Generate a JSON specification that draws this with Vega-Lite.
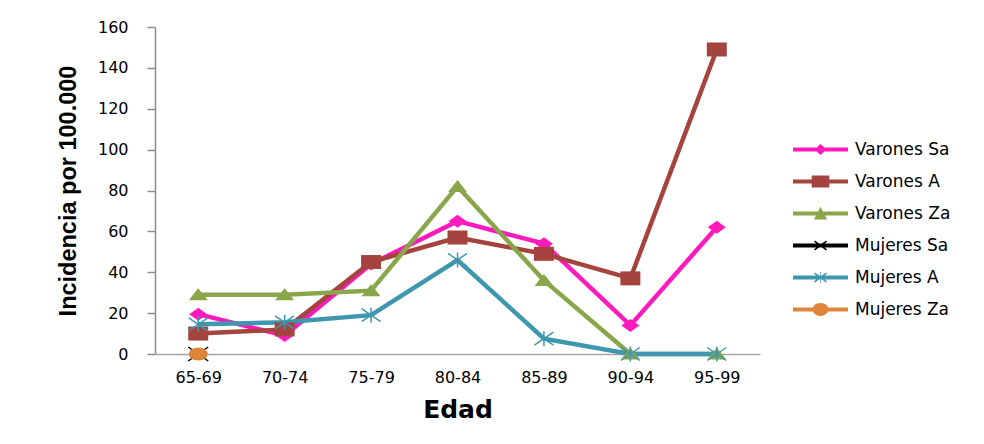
{
  "$schema": "https://vega.github.io/schema/vega-lite/v6.json",
  "width": 605,
  "height": 327,
  "autosize": {"type": "none"},
  "padding": {"left": 155, "top": 27, "right": 224, "bottom": 90},
  "background": "white",
  "config": {"view": {"stroke": null}, "axis": {"grid": false}},
  "data": {
    "values": [
      {"serie": "Varones Sa", "edad": "65-69", "valor": 19.5},
      {"serie": "Varones Sa", "edad": "70-74", "valor": 9},
      {"serie": "Varones Sa", "edad": "75-79", "valor": 44},
      {"serie": "Varones Sa", "edad": "80-84", "valor": 65},
      {"serie": "Varones Sa", "edad": "85-89", "valor": 54},
      {"serie": "Varones Sa", "edad": "90-94", "valor": 14},
      {"serie": "Varones Sa", "edad": "95-99", "valor": 62},
      {"serie": "Varones A", "edad": "65-69", "valor": 10},
      {"serie": "Varones A", "edad": "70-74", "valor": 12},
      {"serie": "Varones A", "edad": "75-79", "valor": 45},
      {"serie": "Varones A", "edad": "80-84", "valor": 57},
      {"serie": "Varones A", "edad": "85-89", "valor": 49},
      {"serie": "Varones A", "edad": "90-94", "valor": 37},
      {"serie": "Varones A", "edad": "95-99", "valor": 149},
      {"serie": "Varones Za", "edad": "65-69", "valor": 29},
      {"serie": "Varones Za", "edad": "70-74", "valor": 29},
      {"serie": "Varones Za", "edad": "75-79", "valor": 31},
      {"serie": "Varones Za", "edad": "80-84", "valor": 82},
      {"serie": "Varones Za", "edad": "85-89", "valor": 36},
      {"serie": "Varones Za", "edad": "90-94", "valor": 0},
      {"serie": "Varones Za", "edad": "95-99", "valor": 0},
      {"serie": "Mujeres Sa", "edad": "65-69", "valor": 0},
      {"serie": "Mujeres A", "edad": "65-69", "valor": 14.5},
      {"serie": "Mujeres A", "edad": "70-74", "valor": 15.5},
      {"serie": "Mujeres A", "edad": "75-79", "valor": 19},
      {"serie": "Mujeres A", "edad": "80-84", "valor": 46},
      {"serie": "Mujeres A", "edad": "85-89", "valor": 7.5},
      {"serie": "Mujeres A", "edad": "90-94", "valor": 0},
      {"serie": "Mujeres A", "edad": "95-99", "valor": 0},
      {"serie": "Mujeres Za", "edad": "65-69", "valor": 0}
    ]
  },
  "encoding": {
    "x": {
      "field": "edad",
      "type": "ordinal",
      "sort": null,
      "scale": {"type": "point", "padding": 0.5},
      "axis": {
        "title": "Edad",
        "titleFont": "DejaVu Sans",
        "titleFontSize": 25,
        "titleFontWeight": "bold",
        "titleColor": "black",
        "titlePadding": 12,
        "labelFont": "DejaVu Sans",
        "labelFontSize": 16,
        "labelColor": "black",
        "labelAngle": 0,
        "labelPadding": 15,
        "ticks": false,
        "domainColor": "#a6a6a6",
        "domainWidth": 1.5
      }
    },
    "y": {
      "field": "valor",
      "type": "quantitative",
      "scale": {"domain": [0, 160], "nice": false},
      "axis": {
        "title": "Incidencia por  100.000",
        "titleFont": "Liberation Sans",
        "titleFontSize": 23.5,
        "titleFontWeight": "bold",
        "titleColor": "black",
        "titlePadding": 17,
        "values": [0, 20, 40, 60, 80, 100, 120, 140, 160],
        "labelFont": "DejaVu Sans",
        "labelFontSize": 16,
        "labelColor": "black",
        "labelPadding": 19,
        "tickSize": 8,
        "tickColor": "#8c8c8c",
        "tickWidth": 1.5,
        "domainColor": "#8c8c8c",
        "domainWidth": 1.5
      }
    },
    "color": {
      "field": "serie",
      "type": "nominal",
      "scale": {
        "domain": ["Mujeres Za", "Mujeres A", "Mujeres Sa", "Varones Za", "Varones A", "Varones Sa"],
        "range": ["#df843b", "#3e97af", "#000000", "#8aa64a", "#a5443f", "#ff1abe"]
      },
      "legend": null
    }
  },
  "layer": [
    {
      "transform": [{"filter": "indexof(datum.serie, 'Varones') == 0"}],
      "mark": {"type": "line", "strokeWidth": 4.5}
    },
    {
      "transform": [{"filter": "indexof(datum.serie, 'Mujeres') == 0"}],
      "mark": {"type": "line", "strokeWidth": 4.5}
    },
    {
      "transform": [{"filter": "indexof(datum.serie, 'Varones') == 0"}],
      "mark": {"type": "point", "filled": true, "opacity": 1, "strokeWidth": 0, "size": 400},
      "encoding": {
        "shape": {
          "condition": [
            {"test": "datum.serie == 'Varones Sa'", "value": "M-0.9,0L0,-0.65L0.9,0L0,0.65Z"},
            {"test": "datum.serie == 'Varones A'", "value": "M-1,-0.7H1V0.7H-1Z"}
          ],
          "value": "M0,-0.65L0.95,0.55L-0.95,0.55Z"
        }
      }
    },
    {
      "transform": [{"filter": "datum.serie == 'Mujeres Sa' || datum.serie == 'Mujeres A'"}],
      "mark": {"type": "point", "filled": false, "opacity": 1, "strokeWidth": 1.5, "size": 400},
      "encoding": {
        "shape": {
          "condition": {"test": "datum.serie == 'Mujeres Sa'", "value": "M-1,-0.7L1,0.7M-1,0.7L1,-0.7"},
          "value": "M-0.95,-0.65L0.95,0.65M-0.95,0.65L0.95,-0.65M0,-0.75L0,0.75"
        }
      }
    },
    {
      "transform": [{"filter": "datum.serie == 'Mujeres Za'"}],
      "mark": {"type": "point", "filled": true, "opacity": 1, "strokeWidth": 0, "size": 400,
               "shape": "M-0.95,0A0.95,0.65 0 1,1 0.95,0A0.95,0.65 0 1,1 -0.95,0Z"}
    },
    {
      "transform": [{"filter": "false"}],
      "mark": {"type": "point", "filled": true, "opacity": 1, "strokeWidth": 0},
      "encoding": {
        "shape": {
          "field": "serie",
          "type": "nominal",
          "scale": {
            "domain": ["Varones Sa", "Varones A", "Varones Za", "Mujeres Sa", "Mujeres A", "Mujeres Za"],
            "range": [
              "M-2.5,-0.18H2.5V0.18H-2.5Z M-0.55,0L0,-0.5L0.55,0L0,0.5Z",
              "M-2.5,-0.18H2.5V0.18H-2.5Z M-0.8,-0.55H0.8V0.55H-0.8Z",
              "M-2.5,-0.18H2.5V0.18H-2.5Z M0,-0.62L0.6,0.55L-0.6,0.55Z",
              "M-2.5,-0.18H2.5V0.18H-2.5Z M-0.588,-0.347L-0.512,-0.453L0.588,0.347L0.512,0.453Z M-0.512,0.453L-0.588,0.347L0.512,-0.453L0.588,-0.347Z",
              "M-2.5,-0.18H2.5V0.18H-2.5Z M-0.588,-0.347L-0.512,-0.453L0.588,0.347L0.512,0.453Z M-0.512,0.453L-0.588,0.347L0.512,-0.453L0.588,-0.347Z M-0.032,-0.5H0.032V0.5H-0.032Z",
              "M-2.5,-0.18H2.5V0.18H-2.5Z M-0.72,0A0.72,0.58 0 1,1 0.72,0A0.72,0.58 0 1,1 -0.72,0Z"
            ]
          },
          "legend": {
            "title": null,
            "orient": "none",
            "legendX": 654.5,
            "legendY": 111.5,
            "padding": 0,
            "symbolSize": 484,
            "symbolStrokeWidth": 0,
            "symbolFillColor": "transparent",
            "symbolOpacity": 1,
            "labelOffset": 23.5,
            "rowPadding": 13,
            "labelFont": "DejaVu Sans",
            "labelFontSize": 17,
            "labelColor": "black",
            "encode": {
              "symbols": {
                "update": {
                  "fill": {"signal": "scale('color', datum.value)"},
                  "stroke": {"value": "transparent"},
                  "opacity": {"value": 1}
                }
              }
            }
          }
        }
      }
    }
  ]
}
